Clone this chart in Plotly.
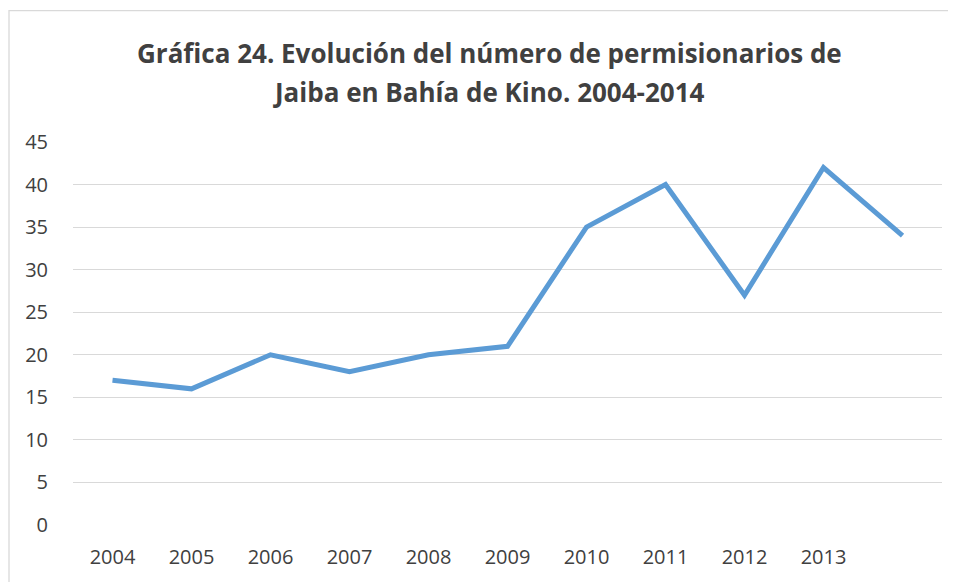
import plotly.graph_objects as go

years = [2004, 2005, 2006, 2007, 2008, 2009, 2010, 2011, 2012, 2013, 2014]
permisionarios = [17, 16, 20, 18, 20, 21, 35, 40, 27, 42, 34]
tick_years = [2004, 2005, 2006, 2007, 2008, 2009, 2010, 2011, 2012, 2013]
tick_labels = [str(y) for y in tick_years]
y_ticks = [0, 5, 10, 15, 20, 25, 30, 35, 40, 45]

title_lines = ["Gráfica 24. Evolución del número de permisionarios de",
               "Jaiba en Bahía de Kino. 2004-2014"]

fig = go.Figure()
fig.add_trace(go.Scatter(
    x=years, y=permisionarios, mode="lines",
    line=dict(color="#5B9BD5", width=5),
    hoverinfo="x+y", showlegend=False,
))

# page body has an 8px margin; figure coordinates = screen - 8
OFF = 8
W, H = 956 - OFF, 582 - OFF
L, T = 73 - OFF, 142 - OFF
R = W - (942 - OFF)
B = H - (527 - OFF)
pw, ph = W - L - R, H - T - B

def py(screen_y):
    return 1 + (T - (screen_y - OFF)) / ph

def px(screen_x):
    return (screen_x - OFF - L) / pw

annotations = []
for text, sy in zip(title_lines, [53, 92]):
    annotations.append(dict(
        text=text, xref="paper", yref="paper",
        x=px(489), y=py(sy), xanchor="center", yanchor="middle",
        showarrow=False,
        font=dict(family="Open Sans", size=26, color="#404040", weight="bold"),
    ))

fig.update_layout(
    width=W, height=H,
    margin=dict(l=L, r=R, t=T, b=B, pad=0),
    paper_bgcolor="white", plot_bgcolor="white",
    font=dict(family="Open Sans", color="#404040"),
    annotations=annotations,
    xaxis=dict(
        range=[2003.5, 2014.5], tickvals=tick_years, ticktext=tick_labels,
        showgrid=False, zeroline=False, showline=False, ticks="",
        tickfont=dict(size=20, color="#404040"), ticklabelstandoff=18,
    ),
    yaxis=dict(
        range=[0, 45], tickvals=y_ticks, showgrid=True,
        gridcolor="#D9D9D9", gridwidth=1.3, zeroline=False, showline=False,
        ticks="", tickfont=dict(size=20, color="#404040"),
        ticklabelstandoff=24,
    ),
    shapes=[dict(
        type="rect", xref="paper", yref="paper",
        x0=px(9), x1=px(990),
        y0=py(620), y1=py(10),
        line=dict(color="#D9D9D9", width=1.3), fillcolor="rgba(0,0,0,0)",
        layer="below",
    )],
)

fig.write_html("out.html")
